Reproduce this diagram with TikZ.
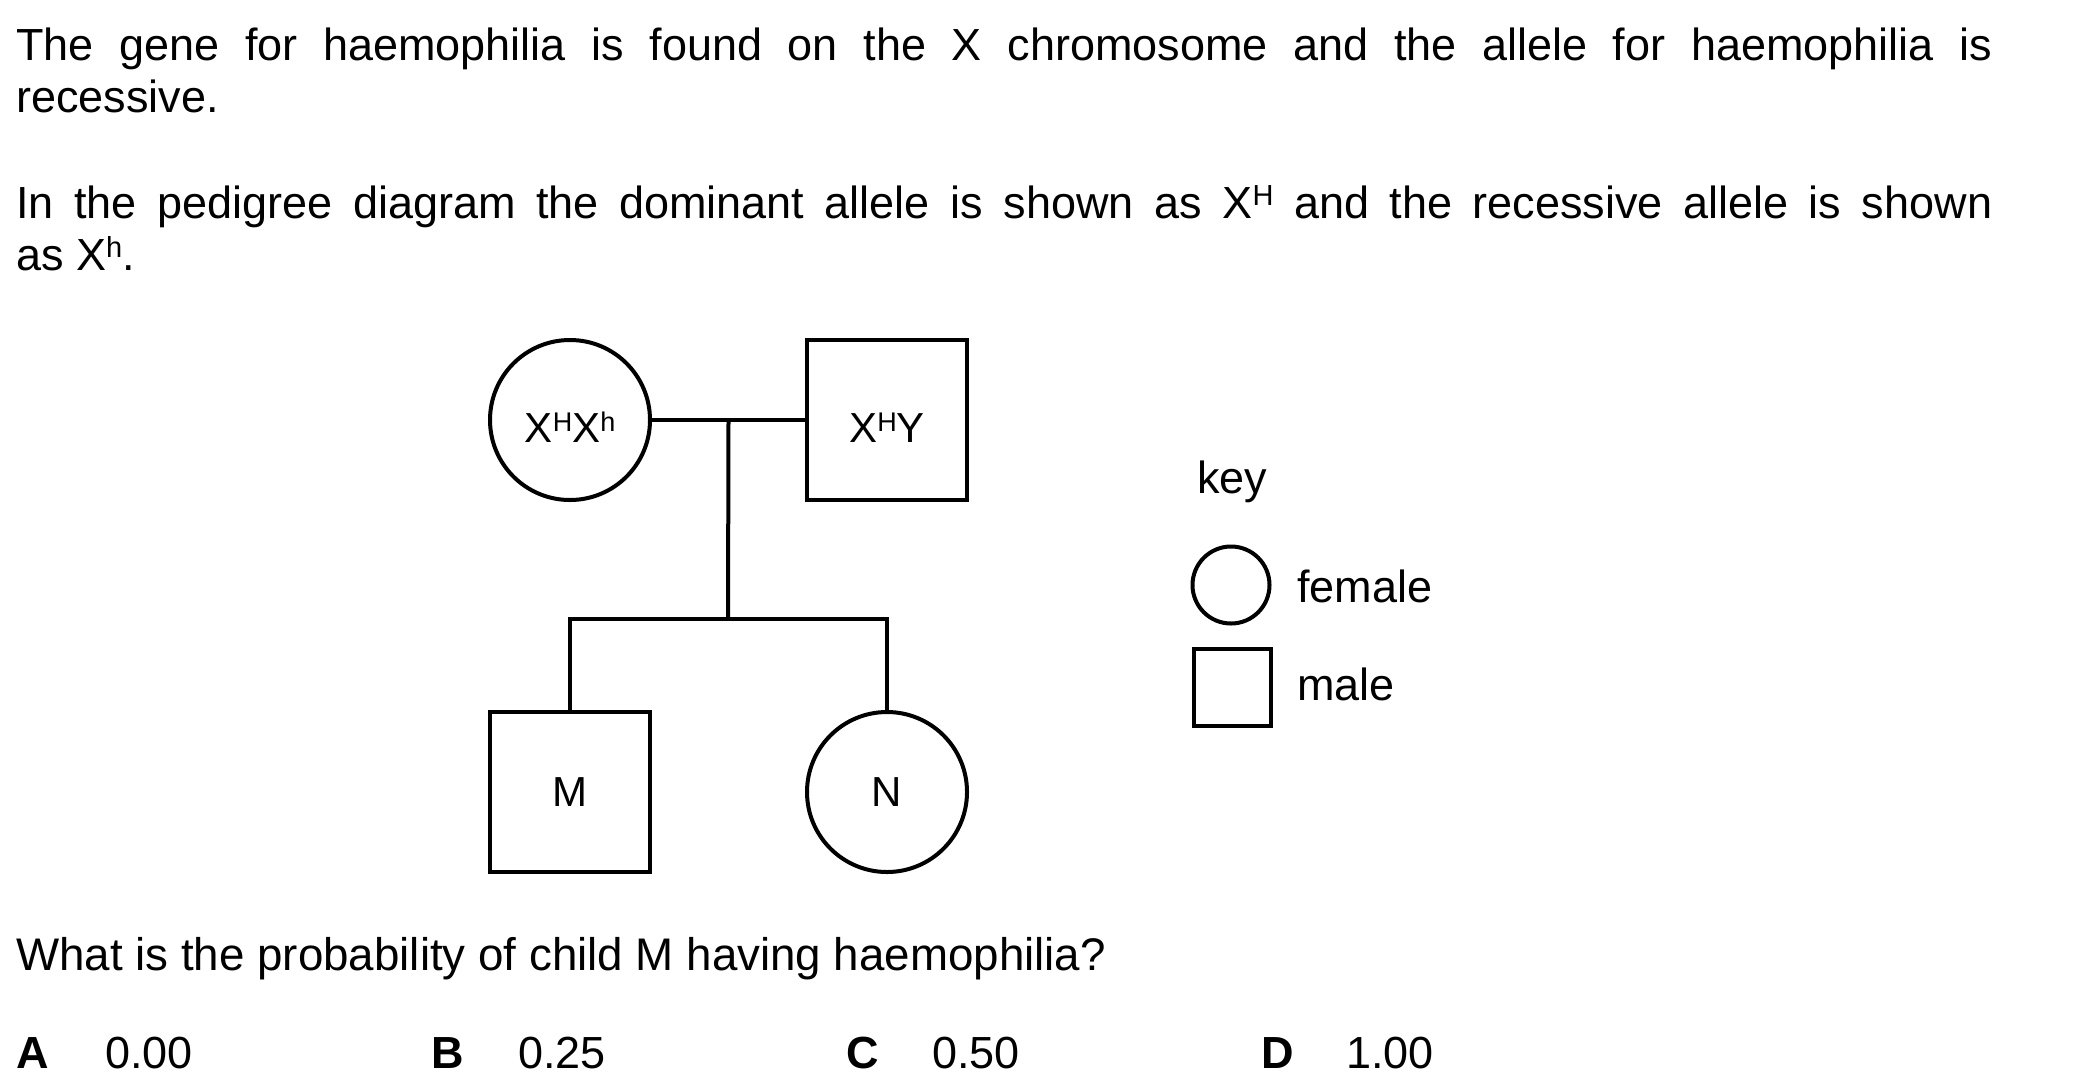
\documentclass[tikz,border=0pt]{standalone}
\usepackage{fontspec}
\setmainfont{Liberation Sans}
\usetikzlibrary{calc}
\newcommand{\supT}[1]{\raisebox{13pt}{\fontsize{29}{29}\selectfont #1}}
\newcommand{\supL}[1]{\raisebox{10.5pt}{\fontsize{27}{27}\selectfont #1}}
\begin{document}
\begin{tikzpicture}[x=1pt,y=-1pt,
  txt/.style={inner sep=0pt, anchor=base west, font=\fontsize{45}{52}\selectfont},
  qtxt/.style={txt, font=\fontsize{45.7}{52}\selectfont},
  lbl/.style={inner sep=0pt, anchor=base, font=\fontsize{42}{42}\selectfont},
  person/.style={draw, line width=4pt, inner sep=0pt},
  fem/.style={person, circle, minimum size=160pt},
  mal/.style={person, rectangle, minimum size=160pt},
  keyfem/.style={person, circle, minimum size=77pt},
  keymal/.style={person, rectangle, minimum size=77pt},
  link/.style={line width=4pt, line join=miter}]
\useasboundingbox (0,0) rectangle (2100,1088);

% intro text
\node[txt] (l1) at (16,60) {\makebox[1976pt][s]{The gene for haemophilia is found on the X chromosome and the allele for haemophilia is}};
\node[txt] (l2) at (16,112) {recessive.};
\node[txt] (l3) at (16,218) {\makebox[1976pt][s]{In the pedigree diagram the dominant allele is shown as X\supT{H} and the recessive allele is shown}};
\node[txt] (l4) at (16,270) {as X\supT{h}.};

% pedigree
\node[fem] (mother) at (570,420) {};
\node[mal] (father) at (887,420) {};
\node[mal] (M) at (570,791.5) {};
\node[fem] (N) at (887,792) {};
\node[lbl] (motherlbl) at (570,442) {X\supL{H}X\supL{h}};
\node[lbl] (fatherlbl) at (887,442) {X\supL{H}Y};
\node[lbl] (Mlbl) at (570,806) {M};
\node[lbl] (Nlbl) at (887,806) {N};

\coordinate (mid) at ($(mother.east)!0.5!(father.west)$);
\coordinate (sib) at (728,619);
\draw[link] (mother.east) -- (father.west);
\draw[link] (mid) -- (sib);
\draw[link] (M.north) |- (sib) -| (N.north);

% key
\node[txt] (keyt) at (1197,493) {key};
\node[keyfem] (kf) at (1231,585) {};
\node[keymal] (km) at (1232,687) {};
\node[txt] (kft) at (1297,602) {female};
\node[txt] (kmt) at (1297,700) {male};

% question
\node[qtxt] (q) at (16,970) {What is the probability of child M having haemophilia?};
\node[txt] (aA) at (16,1068) {\textbf{A}};
\node[txt] (vA) at (105,1068) {0.00};
\node[txt] (aB) at (431,1068) {\textbf{B}};
\node[txt] (vB) at (518,1068) {0.25};
\node[txt] (aC) at (846,1068) {\textbf{C}};
\node[txt] (vC) at (932,1068) {0.50};
\node[txt] (aD) at (1261,1068) {\textbf{D}};
\node[txt] (vD) at (1346,1068) {1.00};
\end{tikzpicture}
\end{document}
